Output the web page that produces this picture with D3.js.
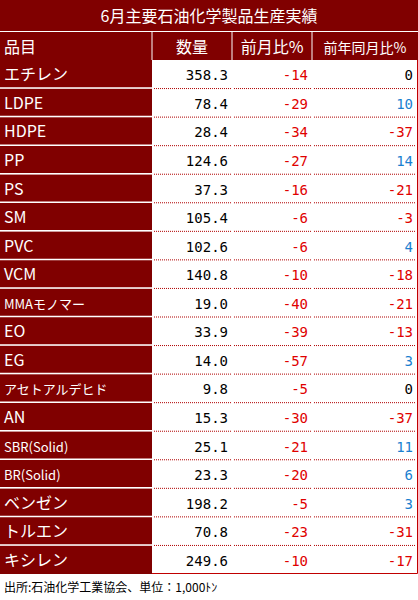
<!DOCTYPE html>
<html><head><meta charset="utf-8">
<script src="https://cdn.jsdelivr.net/npm/d3@7"></script>
<style>body{margin:0;background:#fff}</style>
</head><body><div id="chart"></div>
<script>
// 6月主要石油化学製品生産実績

let titleText = "6月主要石油化学製品生産実績";
let headers = ["品目", "数量", "前月比%", "前年同月比%"];
let products = ["エチレン", "LDPE", "HDPE", "PP", "PS", "SM", "PVC", "VCM", "MMAモノマー", "EO", "EG", "アセトアルデヒド", "AN", "SBR(Solid)", "BR(Solid)", "ベンゼン", "トルエン", "キシレン"];
let volume = [358.3, 78.4, 28.4, 124.6, 37.3, 105.4, 102.6, 140.8, 19.0, 33.9, 14.0, 9.8, 15.3, 25.1, 23.3, 198.2, 70.8, 249.6];
let momPct = [-14, -29, -34, -27, -16, -6, -6, -10, -40, -39, -57, -5, -30, -21, -20, -5, -23, -10];
let yoyPct = [0, 10, -37, 14, -21, -3, 4, -18, -21, -13, 3, 0, -37, 11, 6, 3, -31, -17];
let sourceText = "出所:石油化学工業協会、単位：1,000ﾄﾝ";

let W = 418, H = 600;
let dark = "#800000";
let font = "'Noto Sans CJK JP', sans-serif";

let svg = d3.select("#chart").append("svg").attr("width", W).attr("height", H);

// columns
let colEdges = [0, 152, 232, 312, 418];
let y = d3.scaleBand().domain(d3.range(products.length)).range([60, 574]).padding(0);

// title band
svg.append("rect").attr("x", 0).attr("y", 0).attr("width", W).attr("height", 31).attr("fill", dark);
svg.append("text").attr("x", W / 2).attr("y", 22).attr("text-anchor", "middle")
    .attr("fill", "#fff").attr("font-family", font).attr("font-size", 16).text(titleText);

// header row
svg.append("rect").attr("x", 0).attr("y", 32).attr("width", W).attr("height", 28).attr("fill", dark);
headers.forEach((h, i) => {
    let x0 = colEdges[i], x1 = colEdges[i + 1];
    svg.append("text")
        .attr("x", i === 0 ? 4 : (x0 + x1) / 2)
        .attr("y", 53)
        .attr("text-anchor", i === 0 ? "start" : "middle")
        .attr("fill", "#fff").attr("font-family", font).attr("font-size", i === 3 ? 14 : 16)
        .text(h);
    if (i > 0) svg.append("line").attr("x1", x0).attr("x2", x0).attr("y1", 32).attr("y2", 60)
        .attr("stroke", "#fff").attr("stroke-width", 1);
});
svg.append("line").attr("x1", 0).attr("x2", W).attr("y1", 31.5).attr("y2", 31.5).attr("stroke", "#fff");

// label column
svg.selectAll("rect.label").data(products).join("rect").attr("class", "label")
    .attr("x", 0).attr("y", (d, i) => y(i)).attr("width", 152).attr("height", y.bandwidth())
    .attr("fill", dark);
svg.selectAll("line.labelSep").data(products.slice(1)).join("line").attr("class", "labelSep")
    .attr("x1", 0).attr("x2", 152).attr("y1", (d, i) => y(i + 1) - 0.5).attr("y2", (d, i) => y(i + 1) - 0.5)
    .attr("stroke", "#fff").attr("stroke-width", 1.5);
svg.selectAll("text.label").data(products).join("text").attr("class", "label")
    .attr("x", 4).attr("y", (d, i) => y(i) + y.bandwidth() / 2 + 6)
    .attr("fill", "#fff").attr("font-family", font)
    .attr("font-size", d => d.length > 6 ? 13 : 16).text(d => d);

// dotted row separators in data area
[[154, 231], [234, 311], [314, 416]].forEach(([a, b]) => {
    svg.selectAll(null).data(products.slice(1)).join("line")
        .attr("x1", a).attr("x2", b).attr("y1", (d, i) => y(i + 1)).attr("y2", (d, i) => y(i + 1))
        .attr("stroke", "#b00000").attr("stroke-width", 1).attr("stroke-dasharray", "1,1");
});
// border of data area
svg.append("path").attr("d", `M417.5,60V573.5H152`).attr("fill", "none").attr("stroke", "#c00000");

let numFont = "'DejaVu Sans Mono', monospace";
let pctColor = v => v < 0 ? "#e00000" : (v > 0 ? "#1a7fd0" : "#000");

svg.selectAll("text.vol").data(volume).join("text").attr("class", "vol")
    .attr("x", 228).attr("y", (d, i) => y(i) + y.bandwidth() / 2 + 6)
    .attr("text-anchor", "end").attr("font-family", numFont).attr("font-size", 14)
    .attr("fill", "#000").text(d => d.toFixed(1));
svg.selectAll("text.mom").data(momPct).join("text").attr("class", "mom")
    .attr("x", 308).attr("y", (d, i) => y(i) + y.bandwidth() / 2 + 6)
    .attr("text-anchor", "end").attr("font-family", numFont).attr("font-size", 14)
    .attr("fill", pctColor).text(d => d);
svg.selectAll("text.yoy").data(yoyPct).join("text").attr("class", "yoy")
    .attr("x", 413).attr("y", (d, i) => y(i) + y.bandwidth() / 2 + 6)
    .attr("text-anchor", "end").attr("font-family", numFont).attr("font-size", 14)
    .attr("fill", pctColor).text(d => d);

// source
svg.append("text").attr("x", 4).attr("y", 592).attr("font-family", font).attr("font-size", 12)
    .attr("fill", "#000").text(sourceText);
</script></body></html>
